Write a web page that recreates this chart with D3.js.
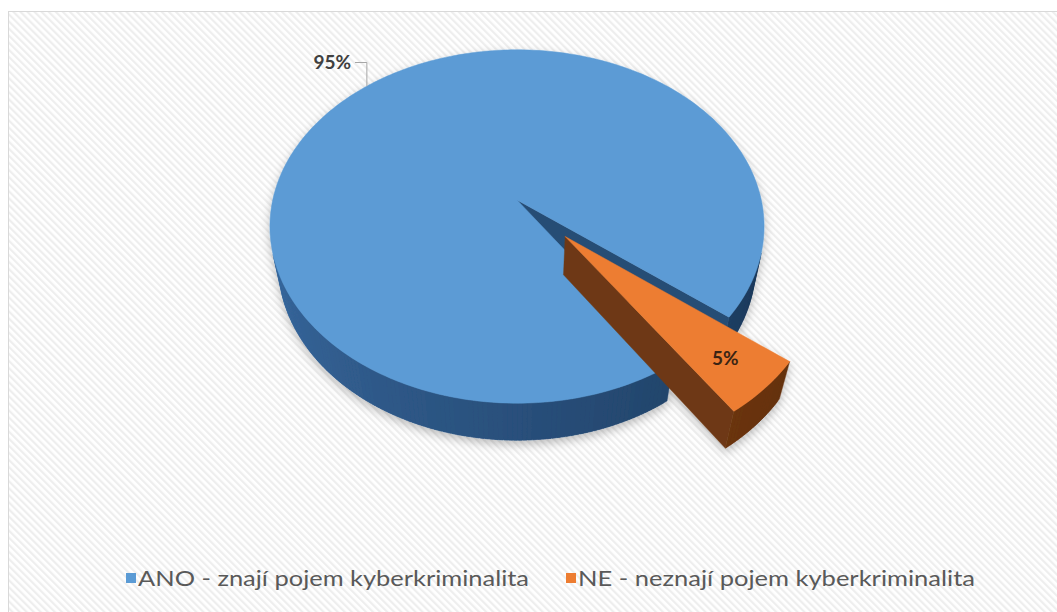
<!DOCTYPE html>
<html>
<head>
<meta charset="utf-8">
<script src="https://cdn.jsdelivr.net/npm/d3@7"></script>
<style>
  html, body { margin: 0; padding: 0; background: #ffffff; }
  svg { display: block; }
</style>
</head>
<body>
<script>
// Survey answers: do respondents know the term "kyberkriminalita"?
const categories = ["ANO - znají pojem kyberkriminalita", "NE - neznají pojem kyberkriminalita"];
const values = [95, 5];
const valueLabels = ["95%", "5%"];
const colors = ["#5B9BD5", "#ED7D31"];

const W = 1057, H = 612;
const deg = Math.PI / 180;

const svg = d3.select("body").append("svg")
  .attr("width", W).attr("height", H)
  .style("font-family", "Lato, 'Open Sans', sans-serif");

const defs = svg.append("defs");

// light diagonal hatching of the chart area
const pat = defs.append("pattern")
  .attr("id", "hatch").attr("patternUnits", "userSpaceOnUse")
  .attr("width", 5).attr("height", 5)
  .attr("patternTransform", "rotate(-45)");
pat.append("rect").attr("width", 5).attr("height", 5).attr("fill", "#ffffff");
pat.append("rect").attr("width", 2.2).attr("height", 5).attr("fill", "#eeeeee");

const shadow = defs.append("filter").attr("id", "pieShadow")
  .attr("x", "-20%").attr("y", "-20%").attr("width", "140%").attr("height", "150%");
shadow.append("feDropShadow")
  .attr("dx", 0).attr("dy", 4).attr("stdDeviation", 5)
  .attr("flood-color", "#000").attr("flood-opacity", 0.25);

// chart area
svg.append("rect")
  .attr("x", 8.5).attr("y", 11.5)
  .attr("width", W + 10).attr("height", H + 10)
  .attr("fill", "url(#hatch)")
  .attr("stroke", "#d9d9d9").attr("stroke-width", 1);

// ---- 3D pie projection ----
const cx = 517, cy = 200;       // screen position of the pie centre
const tilt = 45 * deg;          // elevation of the viewer
const camDist = 4.716;          // camera distance (pie radius = 1)
const focal = 1152;             // projection scale
const thickness = 0.23;         // pie height
const sinA = Math.sin(tilt), cosA = Math.cos(tilt);

function project(x, y, z) {
  const Yc = y * cosA + z * sinA;
  const Zc = camDist + z * cosA - y * sinA;
  return [cx + focal * x / Zc, cy - focal * Yc / Zc];
}

const explode = [0, 0.28];

const pie = d3.pie().sort(null)
  .startAngle(146 * deg)
  .endAngle(506 * deg);
const arcs = pie(values);

const darkSide = [d3.rgb("#183352"), d3.rgb("#5a2a0a")];
const lightSide = [d3.rgb("#3a6ca4"), d3.rgb("#8e4a1c")];

function sideColor(i, phi) {
  let p = ((phi / deg) % 360 + 360) % 360;
  let t = (p - 90) / 180;
  t = Math.max(0, Math.min(1, t));
  return d3.interpolateRgb(darkSide[i], lightSide[i])(t);
}

function area(pts) {
  let s = 0;
  for (let k = 0; k < pts.length; k++) {
    const a = pts[k], b = pts[(k + 1) % pts.length];
    s += a[0] * b[1] - b[0] * a[1];
  }
  return s / 2;
}

const line = d3.line().curve(d3.curveLinearClosed);
const gPie = svg.append("g").attr("filter", "url(#pieShadow)");

const slices = arcs.map((d, i) => {
  const mid = (d.startAngle + d.endAngle) / 2;
  const ox = explode[i] * Math.sin(mid), oz = explode[i] * Math.cos(mid);
  const pt = (r, th, y) => project(ox + r * Math.sin(th), y, oz + r * Math.cos(th));
  return { d, i, mid, pt };
});

slices.forEach(s => {
  const { d, i, pt } = s;
  const g = gPie.append("g");
  const a = d.startAngle, b = d.endAngle;
  const faces = [];

  // outer rim, split into narrow overlapping segments for smooth shading
  const n = Math.ceil((b - a) / (1 * deg));
  const step = (b - a) / n;
  for (let k = 0; k < n; k++) {
    const t1 = a + step * k;
    const t2 = Math.min(b, t1 + step * 1.8);
    const q = [pt(1, t1, 0), pt(1, t2, 0), pt(1, t2, -thickness), pt(1, t1, -thickness)];
    if (area(q) < 0) faces.push({ q, c: sideColor(i, t1 + step / 2) });
  }
  // radial cut faces
  const apexT = pt(0, 0, 0), apexB = pt(0, 0, -thickness);
  const fa = [apexT, pt(1, a, 0), pt(1, a, -thickness), apexB];
  const fb = [apexT, apexB, pt(1, b, -thickness), pt(1, b, 0)];
  if (area(fa) < 0) faces.push({ q: fa, c: d3.rgb(sideColor(i, a - 90 * deg)).darker(0.5) });
  if (area(fb) < 0) faces.push({ q: fb, c: d3.rgb(sideColor(i, b + 90 * deg)).darker(0.5) });

  g.selectAll("path.side").data(faces).join("path")
    .attr("class", "side")
    .attr("d", f => line(f.q))
    .attr("fill", f => f.c)
    .attr("stroke", f => f.c).attr("stroke-width", 0.4)
    .attr("stroke-linejoin", "round");

  // top face
  const top = [apexT];
  const m = Math.ceil((b - a) / (1 * deg));
  for (let k = 0; k <= m; k++) top.push(pt(1, a + (b - a) * k / m, 0));
  g.append("path").attr("d", line(top))
    .attr("fill", colors[i]).attr("stroke", colors[i]).attr("stroke-width", 0.5);
});

// ---- data labels ----
const labelColor = "#404040";
// large slice: label outside with a leader line
{
  const s = slices[0];
  const p = s.pt(1, s.mid, 0);
  const elbowY = 62.5, endX = 355;
  svg.append("path")
    .attr("d", `M${endX},${elbowY}H${p[0]}V${p[1]}`)
    .attr("fill", "none").attr("stroke", "#a6a6a6").attr("stroke-width", 1);
  svg.append("text")
    .attr("x", endX - 4).attr("y", elbowY + 6)
    .attr("text-anchor", "end")
    .attr("font-size", 19).attr("font-weight", "bold")
    .attr("fill", labelColor)
    .text(valueLabels[0]);
}
// small slice: label on the top face
{
  const s = slices[1];
  const p = s.pt(0.82, s.mid, 0);
  svg.append("text")
    .attr("x", p[0]).attr("y", p[1] + 7)
    .attr("text-anchor", "middle")
    .attr("font-size", 19).attr("font-weight", "bold")
    .attr("fill", "#3a2414")
    .text(valueLabels[1]);
}

// ---- legend ----
const legendX = [126, 566];
const legendW = [391, 397];
const legendY = 586;
const lg = svg.append("g");
categories.forEach((c, i) => {
  lg.append("rect")
    .attr("x", legendX[i]).attr("y", legendY - 13)
    .attr("width", 10).attr("height", 10)
    .attr("fill", colors[i]);
  lg.append("text")
    .attr("x", legendX[i] + 12).attr("y", legendY)
    .attr("font-size", 21).attr("fill", "#595959")
    .attr("textLength", legendW[i]).attr("lengthAdjust", "spacingAndGlyphs")
    .text(c);
});
</script>
</body>
</html>
